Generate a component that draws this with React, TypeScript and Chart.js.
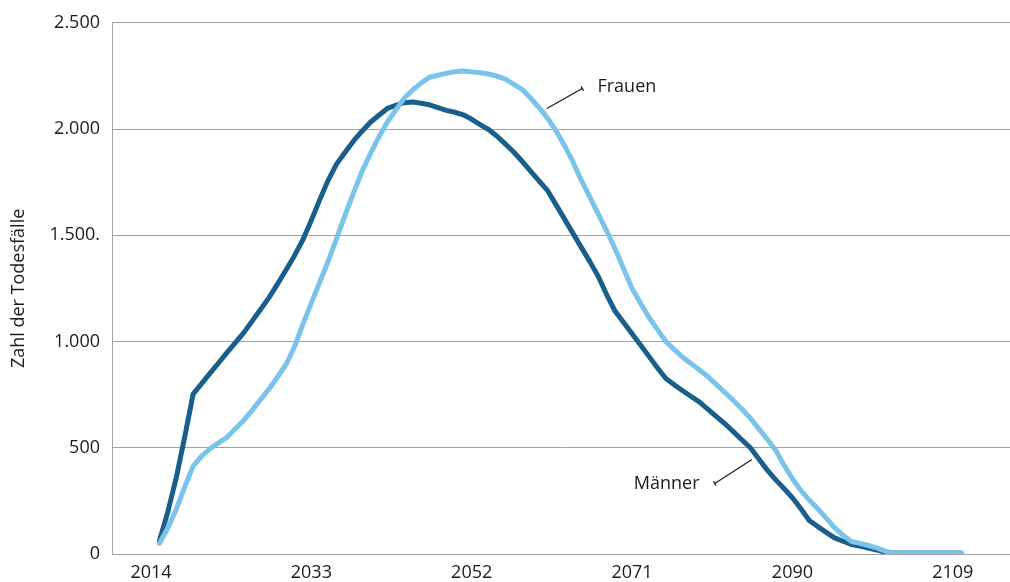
import React, { useEffect, useRef } from "react";
import { Chart, registerables } from "chart.js";

Chart.register(...registerables);

const firstYear = 2015;
const years: number[] = Array.from({ length: 96 }, (_, i) => firstYear + i);

const maennerValues: number[] = [
  62, 199, 360, 552, 754, 802, 851, 899, 948, 995,
  1042, 1097, 1152, 1208, 1271, 1337, 1404, 1479, 1571, 1668,
  1760, 1836, 1891, 1944, 1990, 2032, 2065, 2097, 2111, 2124,
  2127, 2121, 2114, 2101, 2088, 2079, 2067, 2046, 2021, 1998,
  1966, 1929, 1891, 1847, 1801, 1755, 1710, 1643, 1576, 1509,
  1442, 1376, 1306, 1220, 1142, 1089, 1036, 984, 930, 877,
  826, 796, 768, 741, 715, 681, 647, 613, 576, 538,
  501, 448, 396, 350, 308, 265, 213, 158, 129, 102,
  76, 60, 45, 37, 28, 19, 8, 5, 5, 5,
  5, 5, 5, 5, 5, 5,
];

const frauenValues: number[] = [
  50, 122, 211, 316, 414, 461, 496, 523, 549, 589,
  630, 677, 727, 778, 833, 892, 975, 1082, 1182, 1280,
  1379, 1485, 1596, 1700, 1800, 1884, 1962, 2033, 2089, 2145,
  2184, 2216, 2244, 2253, 2262, 2270, 2273, 2269, 2265, 2259,
  2249, 2235, 2210, 2186, 2145, 2100, 2050, 1991, 1922, 1845,
  1758, 1680, 1600, 1520, 1435, 1342, 1250, 1180, 1114, 1057,
  1000, 962, 926, 895, 866, 834, 797, 760, 723, 682,
  640, 590, 541, 490, 418, 354, 299, 254, 213, 169,
  124, 88, 59, 50, 40, 29, 13, 5, 5, 5,
  5, 5, 5, 5, 5, 5,
];

const xTickYears: number[] = [2014, 2033, 2052, 2071, 2090, 2109];
const yTickValues: number[] = [0, 500, 1000, 1500, 2000, 2500];
const yTickLabels: string[] = ["0", "500", "1.000", "1.500.", "2.000", "2.500"];

const seriesNames = { frauen: "Frauen", maenner: "Männer" };

const FONT = "'Open Sans', 'Noto Sans', sans-serif";
const TEXT_COLOR = "#1d1a1b";
const GRID_COLOR = "#a3a3a3";
const DARK_BLUE = "#1a5f8b";
const LIGHT_BLUE = "#7cc3eb";

type Annot = {
  text: string;
  from: [number, number];
  to: [number, number];
  textAt: [number, number];
  align: CanvasTextAlign;
};

const annotations: Annot[] = [
  { text: seriesNames.frauen, from: [2060.9, 2097], to: [2065.1, 2191], textAt: [2066.9, 2200], align: "left" },
  { text: seriesNames.maenner, from: [2085.2, 445], to: [2080.8, 332], textAt: [2079.0, 328], align: "right" },
];

const annotationPlugin = {
  id: "lineLabels",
  afterDatasetsDraw(chart: any) {
    const ctx = chart.ctx as CanvasRenderingContext2D;
    const xs = chart.scales.x;
    const ys = chart.scales.y;
    ctx.save();
    ctx.strokeStyle = TEXT_COLOR;
    ctx.fillStyle = TEXT_COLOR;
    ctx.lineWidth = 1.2;
    for (const a of annotations) {
      const x1 = xs.getPixelForValue(a.from[0]);
      const y1 = ys.getPixelForValue(a.from[1]);
      const x2 = xs.getPixelForValue(a.to[0]);
      const y2 = ys.getPixelForValue(a.to[1]);
      ctx.beginPath();
      ctx.moveTo(x1, y1);
      ctx.lineTo(x2, y2);
      ctx.stroke();
      const dx = x2 - x1;
      const dy = y2 - y1;
      const len = Math.hypot(dx, dy) || 1;
      const px = -dy / len;
      const py = dx / len;
      const h = 2.5;
      ctx.beginPath();
      ctx.moveTo(x2 + px * h, y2 + py * h);
      ctx.lineTo(x2 - px * h, y2 - py * h);
      ctx.stroke();
      ctx.font = `18px ${FONT}`;
      ctx.textAlign = a.align;
      ctx.textBaseline = "middle";
      ctx.fillText(a.text, xs.getPixelForValue(a.textAt[0]), ys.getPixelForValue(a.textAt[1]));
    }
    ctx.restore();
  },
};

export default function App() {
  const canvasRef = useRef<HTMLCanvasElement | null>(null);

  useEffect(() => {
    const canvas = canvasRef.current;
    if (!canvas) return;
    const toPoints = (vals: number[]) => years.map((yr, i) => ({ x: yr, y: vals[i] }));
    const chart = new Chart(canvas, {
      type: "line",
      data: {
        datasets: [
          {
            label: seriesNames.frauen,
            data: toPoints(frauenValues),
            borderColor: LIGHT_BLUE,
            backgroundColor: LIGHT_BLUE,
            borderWidth: 5,
            pointRadius: 0,
            tension: 0,
            borderCapStyle: "round",
            borderJoinStyle: "round",
          },
          {
            label: seriesNames.maenner,
            data: toPoints(maennerValues),
            borderColor: DARK_BLUE,
            backgroundColor: DARK_BLUE,
            borderWidth: 5,
            pointRadius: 0,
            tension: 0,
            borderCapStyle: "round",
            borderJoinStyle: "round",
          },
        ],
      },
      options: {
        responsive: false,
        animation: false,
        devicePixelRatio: 1,
        layout: { padding: { top: 20, right: 0, bottom: 0, left: 0 } },
        plugins: {
          legend: { display: false },
          tooltip: { enabled: false },
        },
        scales: {
          x: {
            type: "linear",
            min: 2009.38,
            max: 2115.78,
            afterBuildTicks: (scale: any) => {
              scale.ticks = xTickYears.map((v) => ({ value: v }));
            },
            afterFit: (scale: any) => {
              scale.height = 28;
            },
            grid: { display: false, drawTicks: false },
            border: { display: true, color: GRID_COLOR, width: 1 },
            ticks: {
              autoSkip: false,
              maxRotation: 0,
              padding: 8,
              color: TEXT_COLOR,
              font: { family: FONT, size: 18 },
              callback: (v: any) => String(v),
            },
          },
          y: {
            type: "linear",
            min: 0,
            max: 2500,
            afterBuildTicks: (scale: any) => {
              scale.ticks = yTickValues.map((v) => ({ value: v }));
            },
            afterFit: (scale: any) => {
              scale.width = 112;
            },
            grid: { color: GRID_COLOR, lineWidth: 1, drawTicks: false },
            border: { display: true, color: GRID_COLOR, width: 1 },
            ticks: {
              padding: 12,
              color: TEXT_COLOR,
              font: { family: FONT, size: 18 },
              callback: (v: any) => {
                const idx = yTickValues.indexOf(Number(v));
                return idx >= 0 ? yTickLabels[idx] : "";
              },
            },
            title: {
              display: true,
              text: "Zahl der Todesfälle",
              color: TEXT_COLOR,
              font: { family: FONT, size: 18 },
              padding: { top: 8, bottom: 0 },
            },
          },
        },
      },
      plugins: [annotationPlugin],
    });
    return () => chart.destroy();
  }, []);

  return (
    <div style={{ position: "fixed", left: 0, top: 0, width: 1010, height: 582, background: "#fff" }}>
      <canvas ref={canvasRef} width={1010} height={582} style={{ display: "block" }} />
    </div>
  );
}
